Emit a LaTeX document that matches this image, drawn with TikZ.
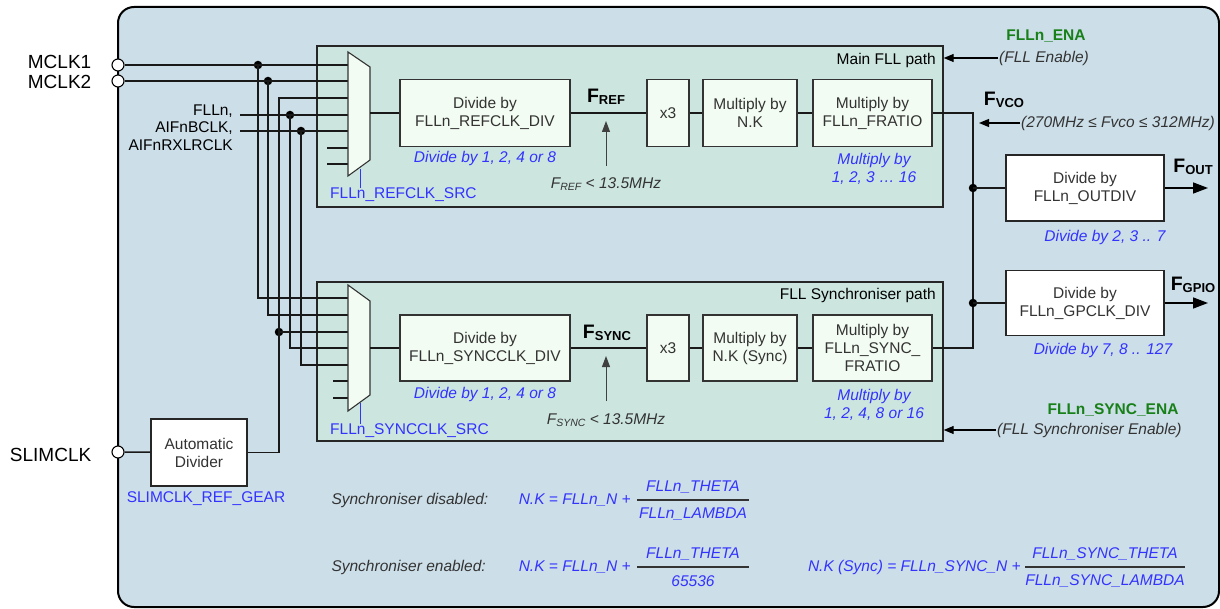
\documentclass[tikz,border=0pt]{standalone}
\usepackage{fontspec}
\setmainfont{Liberation Sans}
\usetikzlibrary{arrows.meta,positioning}
\definecolor{bgblue}{RGB}{204,222,232}
\definecolor{panelgreen}{RGB}{204,230,223}
\definecolor{boxfill}{RGB}{242,252,242}
\definecolor{regblue}{RGB}{51,51,255}
\definecolor{enagreen}{RGB}{24,128,24}
\definecolor{txtgray}{RGB}{51,51,51}
\newcommand{\fsig}[1]{\textbf{\fontsize{19.5}{20}\selectfont F\raisebox{-2.5pt}{\fontsize{13}{12}\selectfont #1}}}
\newcommand{\fsub}[1]{\textit{F\raisebox{-2pt}{\fontsize{10.5}{11}\selectfont #1}}}

\begin{document}
\begin{tikzpicture}[x=1pt, y=-1pt,
  every node/.style={font=\fontsize{15.5}{18}\selectfont},
  panel/.style={draw=black!85, line width=1.4pt, fill=panelgreen, minimum width=626pt, inner sep=0pt},
  blk/.style={draw=black!80, line width=1.1pt, fill=boxfill, text=txtgray, align=center, inner sep=0pt},
  outblk/.style={draw=black!85, line width=1.2pt, fill=white, text=txtgray, align=center, inner sep=0pt},
  pin/.style={circle, draw=black, fill=white, line width=1.1pt, minimum size=12pt, inner sep=0pt},
  dot/.style={circle, fill=black, minimum size=8.5pt, inner sep=0pt},
  wire/.style={line width=1.5pt, black!90},
  reg/.style={text=regblue, font=\fontsize{15.5}{18}\selectfont\itshape, align=center},
  regsel/.style={text=regblue, inner sep=0pt},
  ena/.style={text=enagreen, font=\fontsize{15.5}{18}\selectfont\bfseries},
  note/.style={text=txtgray, font=\fontsize{15.5}{18}\selectfont\itshape},
  fml/.style={text=regblue, font=\fontsize{15.5}{18}\selectfont\itshape, inner sep=1pt},
  ctl/.style={line width=1.2pt, -{Triangle[length=10pt,width=8pt]}},
  outarrow/.style={line width=1.5pt, -{Triangle[length=15pt,width=11pt]}},
  bigtxt/.style={inner sep=0pt, text height=13.5pt, text depth=0pt, font=\fontsize{19}{20}\selectfont},
]
\useasboundingbox (0,0) rectangle (1220,609);
\draw[line width=2pt, fill=bgblue, rounded corners=16pt] (118,7) rectangle (1219,607);

% the two FLL paths
\node[panel, minimum height=161pt] (mainp) at (630,126.5) {};
\node[panel, minimum height=159pt] (syncp) at (630,361.5) {};
\node[anchor=east, inner sep=0pt] (mainlbl) at (936,60) {Main FLL path};
\node[anchor=east, inner sep=0pt] (synclbl) at (936,295) {FLL Synchroniser path};

\node[blk, minimum width=170pt, minimum height=67pt] (refdiv) at (485,113) {Divide by\\FLLn\_REFCLK\_DIV};
\node[blk, minimum width=42pt, minimum height=67pt] (refx3) at (668,113) {x3};
\node[blk, minimum width=94pt, minimum height=67pt] (refnk) at (750,113) {Multiply by\\N.K};
\node[blk, minimum width=119pt, minimum height=67pt] (reffr) at (872.5,113) {Multiply by\\FLLn\_FRATIO};
\draw[wire] (refdiv) -- (refx3) -- (refnk) -- (reffr);

\node[blk, minimum width=170pt, minimum height=66pt] (syndiv) at (485,348) {Divide by\\FLLn\_SYNCCLK\_DIV};
\node[blk, minimum width=42pt, minimum height=66pt] (synx3) at (668,348) {x3};
\node[blk, minimum width=94pt, minimum height=66pt] (synnk) at (750,348) {Multiply by\\N.K (Sync)};
\node[blk, minimum width=119pt, minimum height=66pt] (synfr) at (872.5,348) {Multiply by\\FLLn\_SYNC\_\\FRATIO};
\draw[wire] (syndiv) -- (synx3) -- (synnk) -- (synfr);

\node[reg] (refdivr) at (485,158) {Divide by 1, 2, 4 or 8};
\node[reg] (reffrr) at (874,169) {Multiply by\\1, 2, 3 … 16};
\node[reg] (syndivr) at (485,394) {Divide by 1, 2, 4 or 8};
\node[reg] (synfrr) at (874,405) {Multiply by\\1, 2, 4, 8 or 16};

\node (fref) at (606,97) {\fsig{REF}};
\node[note] (freflim) at (606,184) {\fsub{REF} < 13.5MHz};
\coordinate (refbase) at (606,166);
\coordinate (reftip) at (606,121);
\draw[line width=1pt, black!75, -{Triangle[length=11pt,width=8pt]}] (refbase) -- (reftip);
\node (fsync) at (607,333) {\fsig{SYNC}};
\node[note] (fsynclim) at (606,420) {\fsub{SYNC} < 13.5MHz};
\coordinate (synbase) at (606,401);
\coordinate (syntip) at (606,356);
\draw[line width=1pt, black!75, -{Triangle[length=11pt,width=8pt]}] (synbase) -- (syntip);

% input selectors
\foreach \i/\y in {1/65,2/81,3/98,4/115,5/131,6/148,7/164} \coordinate (ma\i) at (348,\y);
\foreach \i/\y in {1/298,2/315,3/332,4/348,5/365,6/381,7/398} \coordinate (sa\i) at (348,\y);
\node[pin] (mclka) at (118,65) {};
\node[pin] (mclkb) at (118,81) {};
\node[pin] (slim) at (118,452) {};
\node[bigtxt, left=20pt of mclka, yshift=3pt] (mclkal) {MCLK1};
\node[bigtxt, left=20pt of mclkb, yshift=-0.5pt] (mclkbl) {MCLK2};
\node[bigtxt, left=20pt of slim, yshift=-3pt] (sliml) {SLIMCLK};
\node[align=right, anchor=east, inner sep=0pt, font=\fontsize{15.5}{17.5}\selectfont] (aifl) at (233,127.5) {FLLn,\\AIFnBCLK,\\AIFnRXLRCLK};
\coordinate (fin) at (240,115);
\coordinate (ain) at (240,131);

\node[outblk, minimum width=96pt, minimum height=67pt] (ad) at (199,452.5) {Automatic\\Divider};
\node[regsel] (gear) at (206,499) {SLIMCLK\_REF\_GEAR};

\node[dot] (j1) at (258,65) {};
\node[dot] (j2) at (268,81) {};
\node[dot] (j4) at (290,115) {};
\node[dot] (j5) at (301,131) {};
\node[dot] (j3) at (279,332) {};

\draw[wire] (mclka) -- (ma1);
\draw[wire] (mclkb) -- (ma2);
\draw[wire] (fin) -- (ma4);
\draw[wire] (ain) -- (ma5);
\draw[wire] (slim) -- (ad);
\draw[wire] (ad.east) -| (j3 |- ma3) -- (ma3);
\draw[wire] (j1.center) |- (sa1);
\draw[wire] (j2.center) |- (sa2);
\draw[wire] (j3.center) -- (sa3);
\draw[wire] (j4.center) |- (sa4);
\draw[wire] (j5.center) |- (sa5);
\foreach \i in {6,7} {
  \draw[wire] (ma\i) -- ++(-21,0);
  \draw[wire] (sa\i) -- ++(-15,0);
}

\draw[line width=1.1pt, draw=black!80, fill=boxfill] (348,52) -- (370,67) -- (370,160) -- (348,176) -- cycle;
\draw[line width=1.1pt, draw=black!80, fill=boxfill] (348,285) -- (370,301) -- (370,395) -- (348,411) -- cycle;
\coordinate (mx1o) at (370,113);
\coordinate (mx2o) at (370,348);
\draw[wire] (mx1o) -- (refdiv);
\draw[wire] (mx2o) -- (syndiv);

\node[regsel, anchor=west] (refsrc) at (330,195) {FLLn\_REFCLK\_SRC};
\node[regsel, anchor=west] (synsrc) at (330,431) {FLLn\_SYNCCLK\_SRC};
\coordinate (mx1b) at (360,169);
\coordinate (mx2b) at (360,403);
\draw[regblue, line width=1pt] (mx1b) -- (mx1b |- refsrc.north);
\draw[regblue, line width=1pt] (mx2b) -- (mx2b |- synsrc.north);

% enables and outputs
\node[ena] (enan) at (1046,36) {FLLn\_ENA};
\node[note, anchor=west, inner sep=1pt] (enad) at (998,58) {(FLL Enable)};
\draw[ctl] (enad.west) -- (enad.west -| mainp.east);
\node[ena] (senan) at (1113,410) {FLLn\_SYNC\_ENA};
\node[note, anchor=west, inner sep=1pt] (senad) at (996,430) {(FLL Synchroniser Enable)};
\draw[ctl] (senad.west) -- (senad.west -| syncp.east);

\node (fvcol) at (1004,100) {\fsig{VCO}};
\node[note, anchor=west, inner sep=1pt] (vcor) at (1020,123) {(270MHz ≤ Fvco ≤ 312MHz)};
\coordinate (vcotip) at (979,123);
\draw[ctl] (vcor.west) -- (vcotip);

\coordinate (vco) at (973,113);
\draw[wire] (reffr) -- (vco) |- (synfr);
\node[outblk, minimum width=158pt, minimum height=66pt] (outdiv) at (1085,188) {Divide by\\FLLn\_OUTDIV};
\node[outblk, minimum width=158pt, minimum height=65pt] (gpdiv) at (1085,303) {Divide by\\FLLn\_GPCLK\_DIV};
\node[dot] (jo) at (973,188) {};
\node[dot] (jg) at (973,303) {};
\draw[wire] (jo.center) -- (outdiv);
\draw[wire] (jg.center) -- (gpdiv);
\coordinate (fouttip) at (1208,188);
\coordinate (fgpiotip) at (1208,303);
\draw[outarrow] (outdiv) -- (fouttip);
\draw[outarrow] (gpdiv) -- (fgpiotip);
\node (foutl) at (1193,167) {\fsig{OUT}};
\node (fgpiol) at (1193,285) {\fsig{GPIO}};
\node[reg] (outdivr) at (1105,237) {Divide by 2, 3 .. 7};
\node[reg] (gpdivr) at (1103,350) {Divide by 7, 8 .. 127};

% N.K equations
\node[note, anchor=west] (dislbl) at (328,500) {Synchroniser disabled:};
\node[note, anchor=west] (enlbl) at (328,567) {Synchroniser enabled:};
\node[fml, anchor=east] (nka) at (632,500) {N.K = FLLn\_N +};
\node[fml] (tha) at (693,487) {FLLn\_THETA};
\node[fml] (laa) at (693,514) {FLLn\_LAMBDA};
\coordinate (bara) at (637,500);
\draw[line width=1.3pt, black!80] (bara) -- ++(112,0);
\node[fml, anchor=east] (nkb) at (632,567) {N.K = FLLn\_N +};
\node[fml] (thb) at (693,554) {FLLn\_THETA};
\node[fml] (lab) at (693,581) {65536};
\coordinate (barb) at (637,567);
\draw[line width=1.3pt, black!80] (barb) -- ++(112,0);
\node[fml, anchor=east] (nkc) at (1022,567) {N.K (Sync) = FLLn\_SYNC\_N +};
\node[fml] (thc) at (1105,554) {FLLn\_SYNC\_THETA};
\node[fml] (lac) at (1105,581) {FLLn\_SYNC\_LAMBDA};
\coordinate (barc) at (1025,567);
\draw[line width=1.3pt, black!80] (barc) -- ++(160,0);
\end{tikzpicture}
\end{document}
